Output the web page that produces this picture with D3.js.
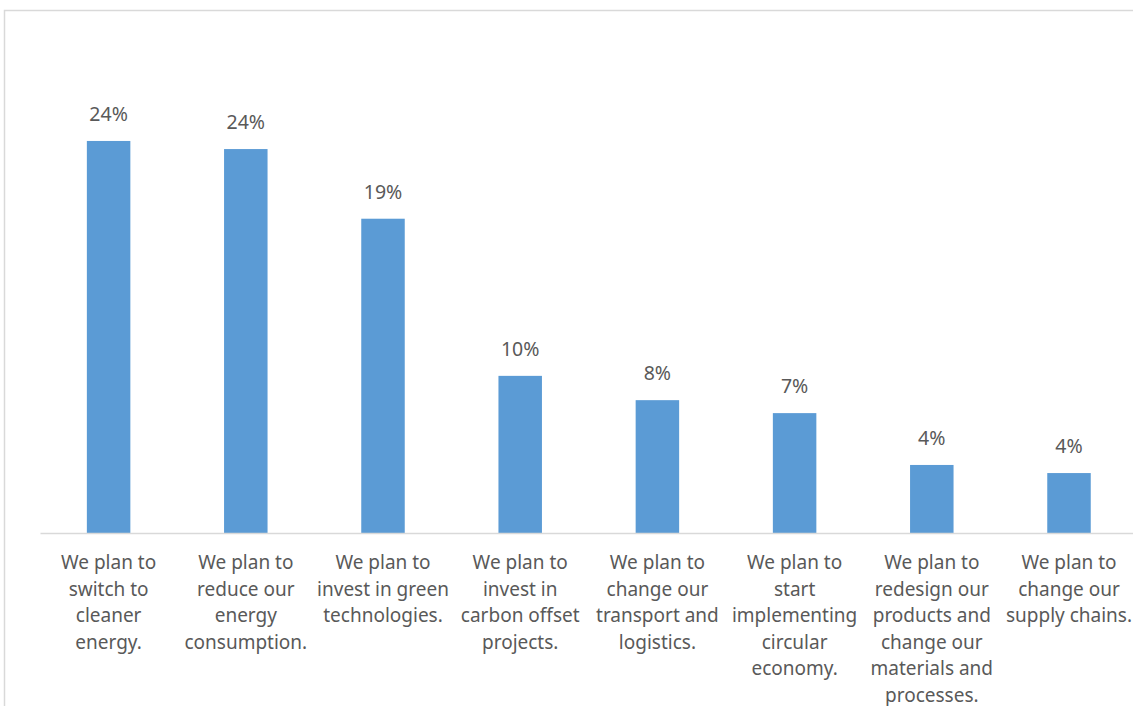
<!DOCTYPE html>
<html>
<head>
<meta charset="utf-8">
<script src="https://cdn.jsdelivr.net/npm/d3@7/dist/d3.min.js"></script>
<style>
  html, body { margin: 0; padding: 0; background: #ffffff; }
  svg { display: block; }
  text { font-family: "Noto Sans", "Open Sans", sans-serif; fill: #595959; }
</style>
</head>
<body>
<svg id="chart" width="1133" height="706"></svg>
<script>
// Planned climate actions (share of respondents)
const categories = [
  "We plan to\nswitch to\ncleaner\nenergy.",
  "We plan to\nreduce our\nenergy\nconsumption.",
  "We plan to\ninvest in green\ntechnologies.",
  "We plan to\ninvest in\ncarbon offset\nprojects.",
  "We plan to\nchange our\ntransport and\nlogistics.",
  "We plan to\nstart\nimplementing\ncircular\neconomy.",
  "We plan to\nredesign our\nproducts and\nchange our\nmaterials and\nprocesses.",
  "We plan to\nchange our\nsupply chains."
];
const shares = [0.242, 0.237, 0.194, 0.097, 0.082, 0.074, 0.042, 0.037];

const svg = d3.select("#chart");
const W = 1133, H = 706;

// chart area frame
svg.append("rect")
  .attr("x", 4.5).attr("y", 10.5)
  .attr("width", W + 10).attr("height", H + 10)
  .attr("fill", "none")
  .attr("stroke", "#d9d9d9")
  .attr("stroke-width", 1.5);

const plot = { left: 40, right: 1137.6, top: 47, bottom: 533 };

const x = d3.scaleBand()
  .domain(categories)
  .range([plot.left, plot.right])
  .paddingInner(0.683)
  .paddingOuter(0.3415);

const y = d3.scaleLinear()
  .domain([0, 0.30])
  .range([plot.bottom, plot.top]);

// bars
svg.append("g")
  .selectAll("rect")
  .data(shares)
  .join("rect")
  .attr("x", (d, i) => x(categories[i]))
  .attr("y", d => y(d))
  .attr("width", x.bandwidth())
  .attr("height", d => y(0) - y(d))
  .attr("fill", "#5b9bd5");

// value labels
const fmt = d3.format(".0%");
svg.append("g")
  .selectAll("text")
  .data(shares)
  .join("text")
  .attr("x", (d, i) => x(categories[i]) + x.bandwidth() / 2)
  .attr("y", d => y(d) - 20)
  .attr("text-anchor", "middle")
  .style("font-size", "19.5px")
  .text(d => fmt(d));

// category axis
const axis = svg.append("g")
  .attr("transform", `translate(0,${plot.bottom})`)
  .call(d3.axisBottom(x).tickSize(0).tickSizeOuter(0).tickFormat(""));
axis.select(".domain").attr("stroke", "#d9d9d9").attr("stroke-width", 1.5);

axis.selectAll(".tick text").remove();
axis.selectAll(".tick").each(function(d) {
  const t = d3.select(this).append("text")
    .attr("text-anchor", "middle")
    .attr("y", 36)
    .style("font-size", "19px");
  d.split("\n").forEach((line, i) => {
    t.append("tspan")
      .attr("x", 0)
      .attr("dy", i === 0 ? 0 : 26.5)
      .text(line);
  });
});
</script>
</body>
</html>
